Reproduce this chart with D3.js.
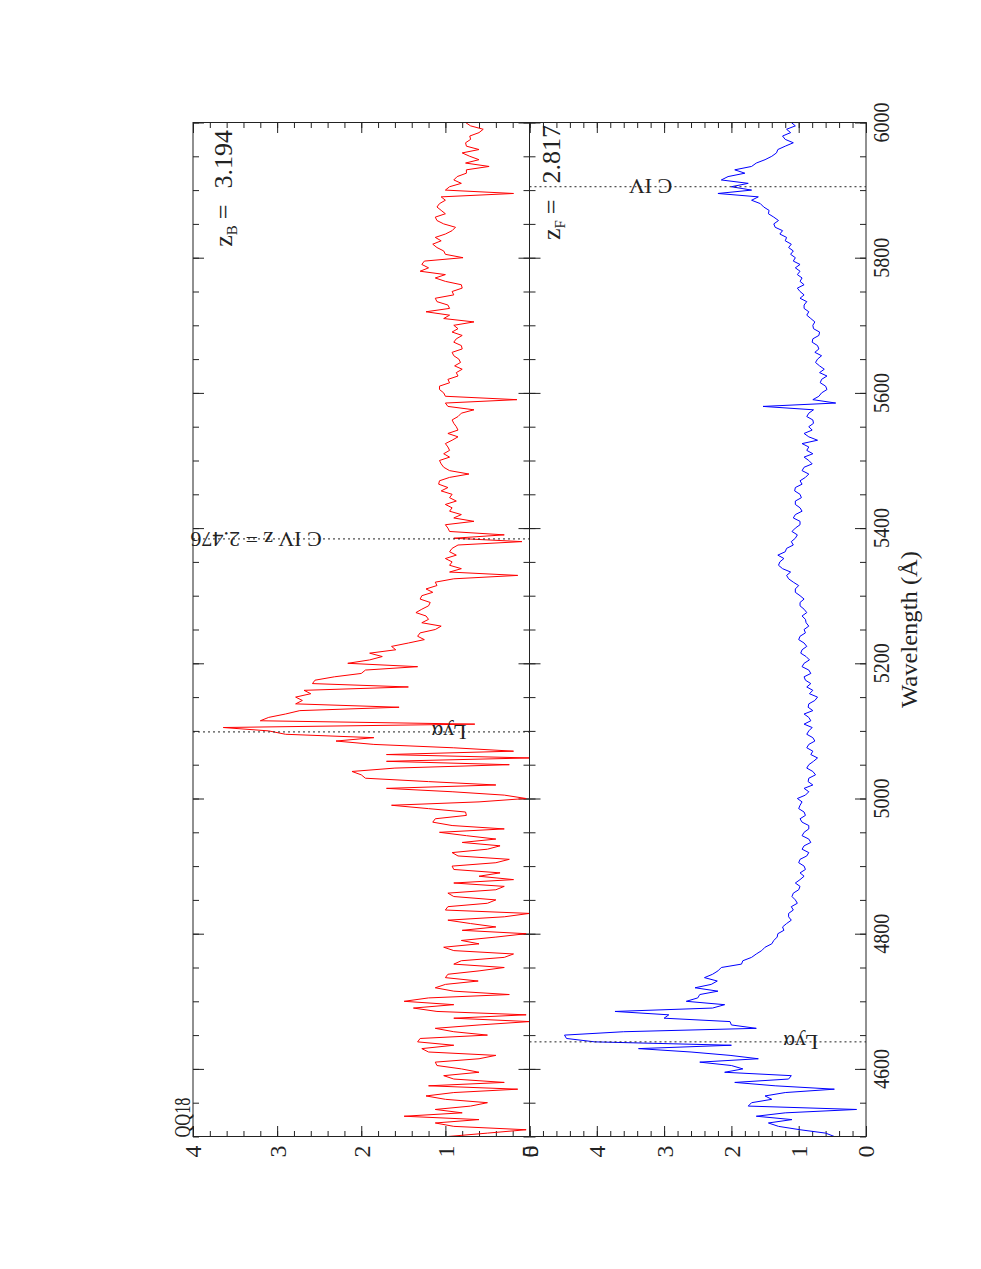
<!DOCTYPE html>
<html>
<head>
<meta charset="utf-8">
<title>QQ18 spectra</title>
<style>
  body { margin: 0; background: #fff; }
  svg { display: block; font-family: "Liberation Serif", serif; }
  .frame { fill: none; stroke: #222; stroke-width: 1; }
  .spec { fill: none; stroke-width: 1; stroke-linejoin: round; }
  .marker { stroke: #222; stroke-width: 1; stroke-dasharray: 2 3; }
  text.lab { fill: #222; font-size: 24px; }
  text.line-id { font-size: 22px; }
  text.zlab { font-size: 26px; }
</style>
</head>
<body>
<svg width="981" height="1269"></svg>
<script src="https://d3js.org/d3.v7.min.js"></script>
<script>
  // sample grid of the spectra (Angstrom), 4500 .. 6000 every 5
  var wavelength = d3.range(4500, 6001, 5);

  // background quasar, z = 3.194 (red); one row per 100 A
  var fluxBright = [
    0.97, 0.50, 0.04, 0.90, 1.12, 0.60, 1.49, 0.80, 1.12, 0.70, 0.50, 1.00, 1.23, 0.90, 0.14, 1.20, 0.30, 0.90, 1.02, 0.60,
    0.81, 1.10, 1.12, 0.60, 0.40, 1.20, 1.28, 0.90, 1.33, 1.30, 0.50, 0.90, 1.12, 0.60, 0.00, 0.90, 0.04, 1.10, 1.38, 0.90,
    1.49, 1.20, 0.24, 0.90, 1.12, 1.00, 0.61, 1.00, 0.97, 0.60, 0.30, 0.90, 0.81, 0.30, 0.19, 0.90, 1.02, 0.60, 0.81, 0.40,
    0.04, 0.80, 0.40, 0.70, 0.97, 0.30, 0.00, 1.00, 0.97, 0.50, 0.40, 0.90, 0.97, 0.40, 0.30, 0.90, 0.19, 0.60, 0.35, 0.90,
    0.92, 0.40, 0.24, 0.85, 0.92, 0.50, 0.35, 0.80, 0.40, 0.75, 1.07, 0.30, 0.92, 1.15, 1.12, 0.75, 0.76, 1.20, 1.64, 0.60,
    0.04, 0.30, 0.92, 1.70, 0.40, 1.20, 1.95, 2.00, 2.11, 1.60, 0.24, 1.70, 0.00, 1.70, 0.19, 0.90, 1.85, 2.30, 1.85, 2.90,
    3.10, 3.64, 0.65, 3.20, 3.10, 2.90, 2.73, 1.55, 2.78, 2.70, 2.78, 2.60, 2.68, 1.44, 2.58, 2.55, 2.32, 2.00, 1.95, 1.33,
    2.16, 1.90, 1.75, 1.90, 1.59, 1.64, 1.44, 1.25, 1.33, 1.30, 1.12, 1.05, 1.28, 1.20, 1.23, 1.35, 1.28, 1.20, 1.18, 1.30,
    1.28, 1.15, 1.23, 1.10, 1.12, 0.90, 0.14, 0.95, 0.81, 0.95, 0.92, 1.00, 0.87, 0.95, 0.92, 0.85, 0.09, 0.90, 0.30, 0.95,
    0.97, 1.00, 0.66, 0.90, 0.81, 0.95, 0.92, 1.00, 0.87, 0.95, 0.92, 1.05, 0.97, 1.08, 1.07, 0.95, 0.72, 0.95, 1.02, 1.05,
    1.07, 0.95, 1.02, 0.95, 0.97, 1.00, 0.92, 0.85, 0.97, 0.85, 0.87, 0.90, 0.92, 0.85, 0.81, 0.66, 0.97, 1.00, 0.15, 1.00,
    1.02, 1.07, 1.07, 0.95, 0.97, 0.85, 0.87, 0.80, 0.89, 0.82, 0.84, 0.90, 0.92, 0.80, 0.81, 0.90, 0.87, 0.80, 0.92, 0.85,
    0.90, 0.66, 1.02, 0.95, 1.23, 0.95, 0.97, 1.10, 1.12, 0.90, 0.92, 0.80, 0.81, 1.00, 1.12, 1.00, 1.30, 1.20, 1.28, 1.25,
    0.79, 1.00, 1.02, 1.10, 1.15, 1.05, 1.12, 1.00, 0.92, 0.88, 1.02, 1.10, 1.12, 1.00, 1.05, 1.10, 1.07, 1.00, 1.05, 0.19,
    1.00, 0.95, 0.81, 0.90, 0.86, 0.75, 0.75, 0.48, 0.76, 0.60, 0.71, 0.80, 0.60, 0.75, 0.76, 0.70, 0.71, 0.60, 0.55, 0.70,
    0.76
  ];

  // foreground quasar, z = 2.817 (blue); one row per 100 A
  var fluxFaint = [
    0.47, 0.60, 0.98, 1.30, 1.45, 1.10, 1.63, 1.20, 0.14, 1.75, 1.70, 1.40, 1.50, 1.20, 0.47, 1.35, 1.95, 1.15, 1.11, 2.10,
    1.83, 2.00, 2.47, 1.60, 2.02, 2.60, 3.38, 2.00, 4.03, 4.45, 4.48, 3.60, 1.63, 2.00, 2.02, 3.00, 2.93, 3.73, 2.28, 2.10,
    2.67, 2.50, 2.47, 2.20, 2.54, 2.30, 2.21, 2.40, 2.28, 2.20, 2.15, 1.85, 1.83, 1.70, 1.63, 1.55, 1.50, 1.40, 1.37, 1.32,
    1.31, 1.22, 1.24, 1.18, 1.11, 1.15, 1.15, 1.08, 1.11, 1.02, 1.05, 1.10, 1.08, 1.00, 0.98, 1.05, 0.98, 0.92, 0.98, 0.90,
    0.92, 1.00, 0.98, 0.88, 0.85, 0.95, 0.92, 0.82, 0.85, 0.95, 0.92, 0.85, 0.85, 0.95, 0.98, 0.90, 0.92, 1.00, 0.98, 0.95,
    1.02, 0.90, 0.85, 0.92, 0.79, 0.86, 0.85, 0.75, 0.79, 0.88, 0.85, 0.78, 0.72, 0.82, 0.79, 0.88, 0.85, 0.76, 0.79, 0.88,
    0.85, 0.80, 0.92, 0.82, 0.85, 0.92, 0.79, 0.86, 0.85, 0.76, 0.72, 0.84, 0.79, 0.88, 0.82, 0.90, 0.92, 0.82, 0.85, 0.95,
    0.92, 0.84, 0.89, 0.97, 0.95, 0.88, 0.92, 1.00, 0.98, 0.90, 0.92, 0.85, 0.89, 0.90, 0.95, 0.88, 0.92, 0.98, 0.98, 0.92,
    0.98, 1.05, 1.05, 1.00, 1.08, 1.15, 1.18, 1.12, 1.24, 1.30, 1.28, 1.22, 1.31, 1.20, 1.18, 1.08, 1.11, 1.05, 1.02, 1.10,
    1.05, 0.98, 0.98, 1.08, 1.05, 0.95, 0.98, 1.05, 1.05, 0.96, 0.98, 1.06, 1.05, 0.95, 0.98, 0.90, 0.85, 0.95, 0.92, 0.80,
    0.85, 0.92, 0.79, 0.88, 0.85, 0.95, 0.72, 0.85, 0.92, 0.80, 0.85, 0.78, 0.79, 0.88, 0.85, 0.78, 1.53, 0.45, 0.79, 0.70,
    0.66, 0.58, 0.60, 0.68, 0.66, 0.58, 0.69, 0.62, 0.69, 0.75, 0.72, 0.66, 0.76, 0.70, 0.72, 0.80, 0.79, 0.70, 0.69, 0.78,
    0.79, 0.76, 0.82, 0.88, 0.85, 0.92, 0.92, 0.88, 0.98, 0.92, 0.98, 1.02, 0.92, 0.98, 0.95, 1.02, 0.98, 1.05, 0.98, 1.08,
    1.05, 1.12, 1.08, 1.15, 1.11, 1.20, 1.18, 1.28, 1.24, 1.35, 1.37, 1.30, 1.37, 1.45, 1.44, 1.52, 1.57, 1.70, 1.60, 2.20,
    1.70, 2.00, 1.75, 2.15, 2.05, 1.80, 1.95, 1.70, 1.63, 1.50, 1.40, 1.33, 1.31, 1.20, 1.08, 1.20, 1.24, 1.12, 1.18, 1.05,
    1.11
  ];

  var wavelengthTicks = [4600, 4800, 5000, 5200, 5400, 5600, 5800, 6000];
  var fluxTicksBright = [0, 1, 2, 3, 4];
  var fluxTicksFaint = [0, 1, 2, 3, 4, 5];

  var linesBright = [
    { wave: 5098.5, label: 'Lyα' },
    { wave: 5384, label: 'C IV z = 2.476' }
  ];
  var linesFaint = [
    { wave: 4640, label: 'Lyα' },
    { wave: 5905, label: 'C IV' }
  ];

  var svg = d3.select('svg');

  // page is a landscape plot turned on its side: wavelength runs up the page
  var L = 193, M = 529.5, R = 866, T = 122.5, B = 1136.5;

  var y = d3.scaleLinear().domain([4500, 6000]).range([B, T]);
  var xBright = d3.scaleLinear().domain([0, 4]).range([M, L]);
  var xFaint = d3.scaleLinear().domain([0, 5]).range([R, M]);

  function tickAxis(axis, values, size, tx, ty) {
    svg.append('g')
      .attr('transform', 'translate(' + tx + ',' + ty + ')')
      .style('color', '#222')
      .call(axis.tickValues(values).tickSize(size).tickSizeOuter(0).tickFormat(''))
      .call(function(g) { g.select('.domain').remove(); });
  }

  var waveMinor = d3.range(4500, 6001, 50);
  var fluxMinorB = d3.range(0, 4.001, 0.2);
  var fluxMinorF = d3.range(0, 5.001, 0.2);

  // wavelength ticks on every vertical edge, pointing into the panels
  [[d3.axisRight, L], [d3.axisLeft, M], [d3.axisRight, M], [d3.axisLeft, R]].forEach(function(a) {
    tickAxis(a[0](y), waveMinor, 6, a[1], 0);
    tickAxis(a[0](y), wavelengthTicks, 11, a[1], 0);
  });

  // flux ticks on top and bottom edges
  [[xBright, fluxMinorB, fluxTicksBright], [xFaint, fluxMinorF, fluxTicksFaint]].forEach(function(a) {
    tickAxis(d3.axisBottom(a[0]), a[1], 5.5, 0, T);
    tickAxis(d3.axisBottom(a[0]), a[2], 10.5, 0, T);
    tickAxis(d3.axisTop(a[0]), a[1], 5.5, 0, B);
    tickAxis(d3.axisTop(a[0]), a[2], 10.5, 0, B);
  });

  // spectra
  var lineB = d3.line().x(function(d) { return xBright(d[1]); }).y(function(d) { return y(d[0]); });
  var lineF = d3.line().x(function(d) { return xFaint(d[1]); }).y(function(d) { return y(d[0]); });

  svg.append('path').attr('class', 'spec').attr('stroke', '#ff0000')
    .datum(d3.zip(wavelength, fluxBright)).attr('d', lineB);
  svg.append('path').attr('class', 'spec').attr('stroke', '#0000ff')
    .datum(d3.zip(wavelength, fluxFaint)).attr('d', lineF);

  // line identifications (dotted) with upside-down labels
  function markLines(list, x0, x1, labelX) {
    list.forEach(function(d, i) {
      svg.append('line').attr('class', 'marker')
        .attr('x1', x0).attr('x2', x1)
        .attr('y1', y(d.wave)).attr('y2', y(d.wave));
      svg.append('text').attr('class', 'lab line-id')
        .attr('transform', 'translate(' + labelX[i] + ',' + y(d.wave) + ') rotate(180)')
        .attr('dy', '0.33em')
        .text(d.label);
    });
  }
  markLines(linesBright, L, M, [xBright(0.75), xBright(2.47)]);
  markLines(linesFaint, M, R, [xFaint(0.71), xFaint(2.88)]);

  // frame
  svg.append('rect').attr('class', 'frame')
    .attr('x', L).attr('y', T).attr('width', R - L).attr('height', B - T);
  svg.append('line').attr('class', 'frame')
    .attr('x1', M).attr('x2', M).attr('y1', T).attr('y2', B);

  // rotated axis labels
  function vText(x, yy, str, anchor, dy, len) {
    var t = svg.append('text').attr('class', 'lab')
      .attr('transform', 'translate(' + x + ',' + yy + ') rotate(-90)')
      .attr('text-anchor', anchor)
      .attr('dy', dy || 0)
      .text(str);
    if (len) t.attr('textLength', len).attr('lengthAdjust', 'spacingAndGlyphs');
    return t;
  }

  wavelengthTicks.forEach(function(w) {
    vText(889, y(w), String(w), 'middle', 0, 40);
  });
  vText(917, y(5250), 'Wavelength (Å)', 'middle', 0, 157);

  fluxTicksBright.forEach(function(f) {
    vText(xBright(f), B + 9, String(f), 'end', '0.35em');
  });
  fluxTicksFaint.forEach(function(f) {
    vText(xFaint(f), B + 9, String(f), 'end', '0.35em');
  });

  vText(L - 3, B + 1, 'QQ18', 'start', 0, 40);

  function zLabel(x, yEnd, sub, value) {
    var t = vText(x, yEnd, '', 'end').classed('zlab', true);
    t.append('tspan').text('z');
    t.append('tspan').attr('dy', 5).style('font-size', '15px').text(sub);
    t.append('tspan').attr('dy', -5).attr('dx', 6).text('=');
    t.append('tspan').attr('dx', 16).text(value);
  }
  zLabel(232, 130, 'B', '3.194');
  zLabel(560, 125, 'F', '2.817');
</script>
</body>
</html>
